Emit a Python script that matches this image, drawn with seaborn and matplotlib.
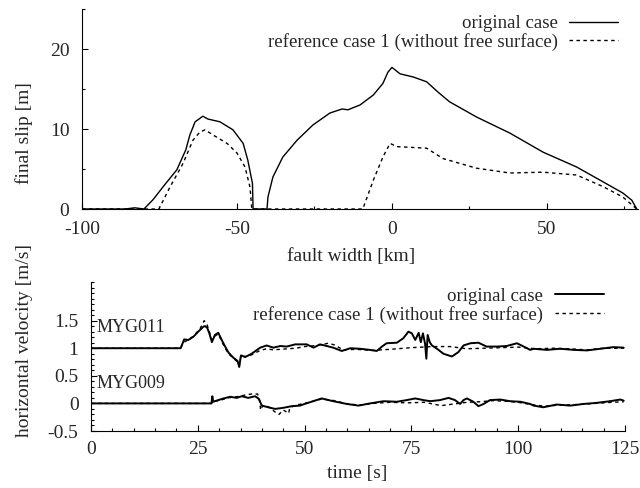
import matplotlib
matplotlib.use("Agg")
import matplotlib.pyplot as plt
import numpy as np
import pandas as pd
import seaborn as sns
from matplotlib.ticker import MultipleLocator, FuncFormatter

# final slip along fault width [km] -> slip [m]
SLIP_ORIG = [(-100, 0), (-86, 0), (-83, 0.15), (-81, 0.05), (-80, 0), (-77, 1.2),
             (-73.9, 2.75), (-69.4, 4.9), (-66.5, 7.4), (-65.2, 9.25), (-63.5, 10.9),
             (-61, 11.6), (-59.4, 11.25), (-55.5, 10.9), (-51.3, 9.9), (-48, 8.2),
             (-46.5, 6.1), (-45, 3.2), (-44.8, 0), (-42, 0), (-40.3, 0), (-40, 1.5),
             (-38.4, 4), (-35.2, 6.5), (-30.6, 8.6), (-25.5, 10.5), (-20, 12),
             (-16.1, 12.5), (-14.2, 12.4), (-10.3, 13), (-6, 14.25), (-2.9, 15.7),
             (-1.3, 17.1), (0, 17.7), (1, 17.4), (2.6, 16.9), (6.9, 16.5), (11.2, 15.9),
             (14.9, 14.6), (18.6, 13.4), (27.3, 11.5), (38, 9.5), (48.8, 7.1),
             (59.6, 5.25), (68.1, 3.4), (74.5, 2), (77.4, 1.1), (79, 0)]
SLIP_REF1 = [(-100, 0), (-75.2, 0), (-71.6, 2.75), (-67.4, 5.7), (-64.2, 8.6), (-62, 9.6),
             (-60.3, 9.9), (-57.7, 9.25), (-53.2, 8.2), (-50, 7), (-47.4, 5.25),
             (-45.8, 2.75), (-45.2, 0), (-9.4, 0), (-6, 3.6), (-2.9, 6.5), (-0.6, 8.2),
             (1.6, 7.8), (11.2, 7.6), (16.5, 6.3), (27.3, 5.1), (38, 4.5), (48.8, 4.6),
             (59.6, 4.25), (68.1, 2.8), (74.5, 1.5), (79, 0)]

# horizontal velocity, time [s] -> v [m/s] (MYG011 shifted by +1)
MYG011_ORIG = [(0, 1), (21, 1), (21.3, 1.06), (21.8, 1.16), (22.8, 1.15), (24, 1.21),
               (25.1, 1.30), (26.3, 1.39), (26.7, 1.40), (27.2, 1.37), (27.7, 1.27),
               (28.3, 1.11), (29, 1.24), (29.8, 1.28), (30.6, 1.15), (31.4, 1.03),
               (32.2, 0.92), (33.3, 0.83), (34.3, 0.77), (34.7, 0.66), (35.1, 0.87),
               (36.1, 0.84), (37.6, 0.9), (39.6, 1.01), (41.1, 1.05), (42.7, 1.01),
               (44.3, 1.04), (45.8, 1.03), (47.8, 1.07), (50.5, 1.07), (52.1, 1.01),
               (53.6, 1.07), (55.2, 1.04), (56.7, 1.01), (58.7, 0.95), (60.7, 1.0),
               (63, 0.99), (65.3, 0.97), (66.9, 0.95), (68.1, 1.03), (69.2, 1.09),
               (71.6, 1.1), (73.1, 1.18), (74.3, 1.30), (75.1, 1.27), (75.9, 1.15),
               (76.7, 1.28), (77.2, 1.11), (77.7, 1.27), (78.2, 1.08), (78.5, 0.81),
               (78.8, 1.24), (79.3, 1.11), (79.8, 1.05), (81, 0.99), (82.5, 0.9),
               (84.5, 0.85), (86, 0.93), (87.2, 1.05), (88.8, 1.09), (90.7, 1.1),
               (92.6, 1.03), (95, 1.03), (97.3, 1.04), (99.7, 1.09), (101.3, 1.03),
               (102.8, 0.97), (103.6, 0.99), (106.7, 0.97), (109.8, 0.99), (113, 0.97),
               (116.1, 0.96), (119.2, 0.99), (122.3, 1.02), (124.7, 1.01)]
MYG011_REF1 = [(0, 1), (21, 1), (21.5, 1.1), (22.5, 1.14), (24, 1.22), (25.5, 1.35),
               (26.5, 1.5), (27.2, 1.42), (27.7, 1.3), (28.3, 1.15), (29, 1.22),
               (29.8, 1.26), (30.6, 1.12), (31.4, 1.0), (32.2, 0.9), (33.3, 0.82),
               (34.3, 0.75), (34.7, 0.68), (35.1, 0.86), (36.1, 0.85), (37.6, 0.88),
               (39.6, 0.96), (41.1, 0.99), (42.7, 0.97), (44.3, 0.98), (46, 0.99),
               (48, 1.0), (50, 1.03), (53, 1.05), (55.5, 1.09), (57, 1.06), (59, 0.97),
               (62, 0.98), (66, 0.96), (70, 0.98), (75, 1.01), (80, 1.03), (84, 1.03),
               (88, 0.99), (92, 1.0), (96, 1.01), (100, 1.02), (104, 0.99), (108, 1.0),
               (112, 0.99), (116, 0.97), (120, 1.0), (124.7, 1.0)]
MYG009_ORIG = [(0, 0), (28.2, 0), (28.4, 0.13), (28.6, 0.03), (29.8, 0.06), (31, 0.09),
               (32.6, 0.12), (34.1, 0.1), (35.3, 0.13), (36.8, 0.10), (38.4, 0.13),
               (39.2, 0.09), (40, -0.04), (41.5, -0.07), (43.1, -0.1), (45, -0.08),
               (47, -0.05), (48.9, -0.04), (50, -0.01), (52, 0.04), (54, 0.09),
               (56.7, 0.04), (59.9, -0.01), (62.6, -0.04), (65.3, 0), (68.5, 0.04),
               (71.6, 0.03), (73.9, 0.06), (75.9, 0.09), (77.8, 0.06), (79.4, 0.04),
               (81.7, 0.06), (83.7, 0.10), (85.2, 0.06), (86.4, -0.01), (87.2, 0.06),
               (88, 0.09), (89.5, 0.03), (90.7, -0.05), (91.9, -0.01), (93.4, 0.06),
               (95.8, 0.07), (98.1, 0.04), (100.5, 0.03), (102.8, -0.01), (103.6, -0.04),
               (105.9, -0.07), (109, -0.02), (112.2, -0.04), (115.3, -0.01), (118.4, 0.01),
               (121.5, 0.04), (123.9, 0.07), (124.7, 0.05)]
MYG009_REF1 = [(0, 0), (28.2, 0), (28.5, 0.04), (30, 0.05), (32, 0.1), (34, 0.12),
               (36, 0.15), (37.5, 0.17), (39, 0.17), (39.5, 0.05), (39.7, -0.12),
               (40.2, -0.04), (41.5, -0.06), (43, -0.15), (44, -0.2), (45, -0.12),
               (46.3, -0.18), (46.5, -0.08), (48, -0.03), (50, 0.0), (52, 0.04), (54, 0.08),
               (57, 0.05), (60, -0.01), (63, -0.03), (66, 0.0), (70, 0.02), (74, 0.01),
               (78, 0.02), (80, -0.01), (82, -0.04), (85, -0.01), (88, 0.02), (91, 0.03),
               (94, 0.05), (97, 0.04), (100, 0.02), (103, -0.02), (106, -0.05), (110, -0.03),
               (114, -0.02), (118, 0.0), (122, 0.02), (124.7, 0.03)]

LABEL_ORIG = "original case"
LABEL_REF1 = "reference case 1 (without free surface)"
DASH = (0, (2.5, 2.5))
FS = 14
FS_LEG = 13.6


def frame(pairs, xname, yname):
    return pd.DataFrame(pairs, columns=[xname, yname])


def style_axis(ax):
    for side in ("top", "right"):
        ax.spines[side].set_visible(False)
    for side in ("left", "bottom"):
        ax.spines[side].set_linewidth(0.8)
        ax.spines[side].set_color("black")
    ax.tick_params(which="both", direction="in", top=False, right=False, color="black", width=0.8)
    ax.tick_params(which="major", length=4)
    ax.tick_params(which="minor", length=2.5)
    ax.xaxis.set_major_formatter(FuncFormatter(lambda v, _: f"{v:g}"))
    ax.yaxis.set_major_formatter(FuncFormatter(lambda v, _: f"{v:g}"))


sns.set_theme(style="ticks")
plt.rcParams["font.family"] = ["Liberation Serif", "DejaVu Serif"]
plt.rcParams["font.size"] = FS
plt.rcParams["axes.unicode_minus"] = False

fig = plt.figure(figsize=(6.4, 4.88), dpi=100)
W, H = 640, 488

# top panel: final slip
ax1 = fig.add_axes([82 / W, 1 - 209 / H, 556 / W, 200 / H])
sns.lineplot(data=frame(SLIP_ORIG, "x", "slip"), x="x", y="slip", ax=ax1, color="black",
             lw=1.0, estimator=None, sort=False, label=LABEL_ORIG)
sns.lineplot(data=frame(SLIP_REF1, "x", "slip"), x="x", y="slip", ax=ax1, color="black",
             lw=1.0, linestyle=DASH, estimator=None, sort=False, label=LABEL_REF1)
ax1.set_xlim(-100, 79.4)
ax1.set_ylim(0, 25)
ax1.xaxis.set_major_locator(MultipleLocator(50))
ax1.xaxis.set_minor_locator(MultipleLocator(25))
ax1.yaxis.set_major_locator(MultipleLocator(10))
ax1.yaxis.set_minor_locator(MultipleLocator(5))
style_axis(ax1)
ax1.tick_params(axis="x", which="major", labelsize=FS, pad=9)
ax1.tick_params(axis="y", which="major", labelsize=FS, pad=9)
ax1.set_xlabel("fault width [km]", fontsize=FS)
ax1.set_ylabel("final slip [m]", fontsize=FS)
ax1.xaxis.set_label_coords(0.484, -0.195)
ax1.yaxis.set_label_coords(-0.088, 0.38)
ax1.legend(loc="upper right", bbox_to_anchor=(0.964, 0.97), frameon=False,
           markerfirst=False, handlelength=2.6, handletextpad=0.6,
           labelspacing=0.05, borderpad=0, borderaxespad=0, fontsize=FS_LEG)

# bottom panel: horizontal velocity
ax2 = fig.add_axes([91 / W, 1 - 431 / H, 534 / W, 149 / H])
for pairs, label, ls in [(MYG011_ORIG, LABEL_ORIG, "-"), (MYG011_REF1, LABEL_REF1, DASH),
                         (MYG009_ORIG, None, "-"), (MYG009_REF1, None, DASH)]:
    sns.lineplot(data=frame(pairs, "t", "v"), x="t", y="v", ax=ax2, color="black",
                 lw=1.4 if ls == "-" else 1.0, linestyle=ls, estimator=None,
                 sort=False, label=label)
ax2.set_xlim(0, 125)
ax2.set_ylim(-0.5, 2.2)
ax2.xaxis.set_major_locator(MultipleLocator(25))
ax2.xaxis.set_minor_locator(MultipleLocator(5))
ax2.yaxis.set_major_locator(MultipleLocator(0.5))
ax2.yaxis.set_minor_locator(MultipleLocator(0.1))
ax2.set_yticks([-0.5, 0, 0.5, 1, 1.5])
style_axis(ax2)
ax2.tick_params(axis="x", which="major", labelsize=FS, pad=7.5)
ax2.tick_params(axis="y", which="major", labelsize=FS, pad=9)
ax2.set_xlabel("time [s]", fontsize=FS)
ax2.set_ylabel("horizontal velocity [m/s]", fontsize=FS)
ax2.xaxis.set_label_coords(0.498, -0.23)
ax2.yaxis.set_label_coords(-0.108, 0.61)
ax2.text(1.4, 1.38, "MYG011", va="center", ha="left", fontsize=13)
ax2.text(1.4, 0.36, "MYG009", va="center", ha="left", fontsize=13)
ax2.legend(loc="upper right", bbox_to_anchor=(0.960, 0.962), frameon=False,
           markerfirst=False, handlelength=2.6, handletextpad=0.6,
           labelspacing=0.05, borderpad=0, borderaxespad=0, fontsize=FS_LEG)

fig.savefig("out.png", dpi=100)
